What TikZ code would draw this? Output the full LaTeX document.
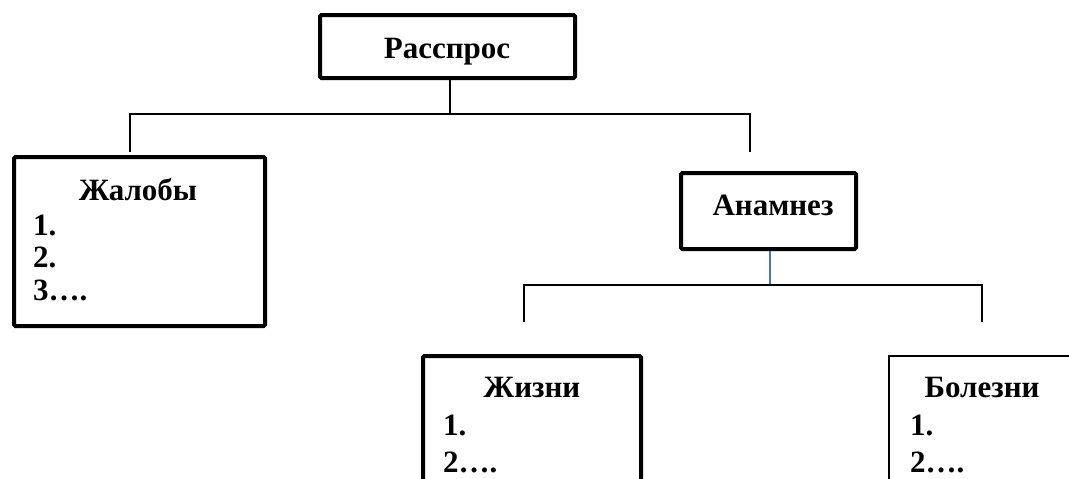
\documentclass[tikz,border=0pt]{standalone}
\usepackage{fontspec}
\setmainfont{Liberation Serif}
\definecolor{stemblue}{HTML}{4472C4}
\begin{document}
\begin{tikzpicture}[x=1pt,y=-1pt,
  thickbox/.style={draw=black,line width=4pt,rounded corners=1.5pt,inner sep=0pt,fill=white},
  thinbox/.style={draw=black,line width=1.5pt,inner sep=0pt,fill=white},
  conn/.style={draw=black,line width=1.5pt},
  bluestem/.style={draw=stemblue,line width=1.5pt},
  lbl/.style={inner sep=0pt,font=\fontsize{31}{37}\selectfont\bfseries},
  title/.style={lbl,anchor=base},
  item/.style={lbl,anchor=base west}]
\useasboundingbox (0,0) rectangle (1069,479);
\clip (0,0) rectangle (1069,479);
% boxes
\node[thickbox,minimum width=255pt,minimum height=63pt] (rasspros) at (447.5,46.5) {};
\node[thickbox,minimum width=251pt,minimum height=169pt] (zhaloby) at (139.5,241.5) {};
\node[thickbox,minimum width=175pt,minimum height=76pt] (anamnez) at (768.5,211) {};
\node[thickbox,minimum width=218pt,minimum height=164pt] (zhizni) at (532,438) {};
\node[thinbox,minimum width=201pt,minimum height=164pt] (bolezni) at (989.5,438) {};
% texts
\node[title] (t1) at (447,58) {Расспрос};
\node[title] (t2) at (138,200) {Жалобы};
\node[item] (t2a) at (33,235) {1.};
\node[item] (t2b) at (33,267) {2.};
\node[item] (t2c) at (33,300) {3\dots.};
\node[title] (t3) at (773,215) {Анамнез};
\node[title] (t4) at (532,397) {Жизни};
\node[item] (t4a) at (443,435) {1.};
\node[item] (t4b) at (443,472) {2\dots.};
\node[title] (t5) at (982,397) {Болезни};
\node[item] (t5a) at (910,435) {1.};
\node[item] (t5b) at (910,472) {2\dots.};
% connector coordinates
\coordinate (j1) at (450,114);
\coordinate (l1) at (130,152);
\coordinate (r1) at (750,152);
\coordinate (j2) at (770,285);
\coordinate (l2) at (524,322);
\coordinate (r2) at (982,322);
% connectors
\draw[conn] (rasspros.south -| j1) -- (j1);
\draw[conn] (l1) |- (j1) -| (r1);
\draw[bluestem] (anamnez.south -| j2) -- (j2);
\draw[conn] (l2) |- (j2) -| (r2);
\end{tikzpicture}
\end{document}
